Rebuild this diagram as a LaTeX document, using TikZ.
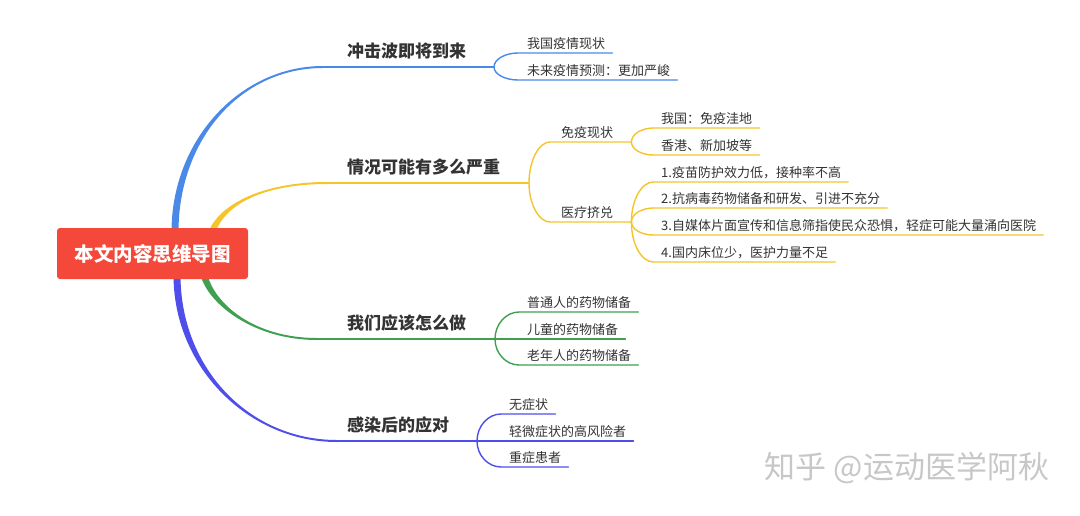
\documentclass[tikz,border=0pt]{standalone}
\usepackage{fontspec}
\setmainfont{Noto Sans CJK SC}
\usetikzlibrary{calc}
\definecolor{cRed}{RGB}{244,72,58}
\definecolor{cBlue}{RGB}{74,137,232}
\definecolor{cYellow}{RGB}{244,196,40}
\definecolor{cGreen}{RGB}{62,160,80}
\definecolor{cPurple}{RGB}{80,78,235}
\definecolor{cText}{RGB}{51,51,51}
\tikzset{
  topic/.style={font=\fontsize{17}{17}\selectfont\bfseries, text=cText, anchor=base west, inner sep=0pt},
  sub/.style={font=\fontsize{13}{13}\selectfont, text=cText, anchor=south west, inner xsep=0pt, inner ysep=2pt, text depth=2pt},
  leaf/.style={sub},
  link/.style={line width=1.4pt},
}
\begin{document}
\begin{tikzpicture}[x=1pt,y=-1pt, line join=round, line cap=round]
  \useasboundingbox (0,0) rectangle (1080,515);
  % trunks from the root, tapered
  \foreach \c/\xa/\ya/\xp/\yp/\xq/\xe/\ye/\s in {cBlue/175/232/175/139/241/323/67/-1, cYellow/212/232/222/205/262/327/183/-1,
      cGreen/204/275/212/305/255/317/339/1, cPurple/177/275/177/368/249/337/441/1}
  {\fill[\c] (\xa-3.5,\ya) .. controls (\xp-3.5,\yp) and (\xq,\ye+\s) .. (\xe,\ye+\s)
      -- (\xe,\ye-\s) .. controls (\xq,\ye-\s) and (\xp+3.5,\yp) .. (\xa+3.5,\ya) -- cycle;}
  \node[fill=cRed, rounded corners=3pt, minimum width=191pt, minimum height=51pt, text=white,
        font=\fontsize{19.5}{19.5}\selectfont\bfseries] (root) at (152.5,253.5) {本文内容思维导图};
  % topics
  \node[topic] (t1) at (347,57) {冲击波即将到来};
  \node[topic] (t2) at (347,173) {情况可能有多么严重};
  \node[topic] (t3) at (347,329) {我们应该怎么做};
  \node[topic] (t4) at (347,431) {感染后的应对};
  \coordinate (e1) at (322,67);  \coordinate (j1) at (494,67);
  \coordinate (e2) at (326,183); \coordinate (j2) at (529,183);
  \coordinate (e3) at (316,339); \coordinate (j3) at (495,339);
  \coordinate (e4) at (336,441); \coordinate (j4) at (477,441);
  \draw[cBlue, link] (e1) -- (j1);
  \draw[cYellow, link] (e2) -- (j2);
  \draw[cGreen, link] (e3) -- (j3);
  \draw[cPurple, link] (e4) -- (j4);
  % blue leaves
  \node[leaf] (l1a) at (527,53) {我国疫情现状};
  \node[leaf] (l1b) at (527,80) {未来疫情预测：更加严峻};
  \foreach \l in {l1a,l1b}
  {\draw[cBlue, link] (j1) .. controls ($(j1)!0.55!(j1 |- \l.south)$) and ($(j1 |- \l.south)+(11,0)$) .. ($(j1 |- \l.south)+(24,0)$) -- ([xshift=7pt]\l.south east);}
  % yellow
  \node[sub] (s2a) at (561,142) {免疫现状};
  \node[sub] (s2b) at (561,222) {医疗挤兑};
  \coordinate (k2a) at ([xshift=18pt]s2a.south east);
  \coordinate (k2b) at ([xshift=18pt]s2b.south east);
  \foreach \l/\k in {s2a/k2a,s2b/k2b}
  {\draw[cYellow, link] (j2) .. controls ($(j2)!0.55!(j2 |- \l.south)$) and ($(j2 |- \l.south)+(10,0)$) .. ($(j2 |- \l.south)+(21,0)$) -- (\k);}
  \node[leaf] (l2a) at (661,128) {我国：免疫洼地};
  \node[leaf] (l2b) at (661,155) {香港、新加坡等};
  \node[leaf] (l2c) at (661,182) {1.疫苗防护效力低，接种率不高};
  \node[leaf] (l2d) at (661,208) {2.抗病毒药物储备和研发、引进不充分};
  \node[leaf] (l2e) at (661,235) {3.自媒体片面宣传和信息筛指使民众恐惧，轻症可能大量涌向医院};
  \node[leaf] (l2f) at (661,262) {4.国内床位少，医护力量不足};
  \foreach \l/\k in {l2a/k2a,l2b/k2a,l2c/k2b,l2d/k2b,l2e/k2b,l2f/k2b}
  {\draw[cYellow, link] (\k) .. controls ($(\k)!0.55!(\k |- \l.south)$) and ($(\k |- \l.south)+(10,0)$) .. ($(\k |- \l.south)+(22,0)$) -- ([xshift=7pt]\l.south east);}
  % green leaves
  \node[leaf] (l3a) at (527,312) {普通人的药物储备};
  \node[leaf] (l3b) at (527,339) {儿童的药物储备};
  \node[leaf] (l3c) at (527,365) {老年人的药物储备};
  \foreach \l in {l3a,l3b,l3c}
  {\draw[cGreen, link] (j3) .. controls ($(j3)!0.55!(j3 |- \l.south)$) and ($(j3 |- \l.south)+(11,0)$) .. ($(j3 |- \l.south)+(24,0)$) -- ([xshift=7pt]\l.south east);}
  % purple leaves
  \node[leaf] (l4a) at (509,414) {无症状};
  \node[leaf] (l4b) at (509,441) {轻微症状的高风险者};
  \node[leaf] (l4c) at (509,467) {重症患者};
  \foreach \l in {l4a,l4b,l4c}
  {\draw[cPurple, link] (j4) .. controls ($(j4)!0.55!(j4 |- \l.south)$) and ($(j4 |- \l.south)+(11,0)$) .. ($(j4 |- \l.south)+(24,0)$) -- ([xshift=7pt]\l.south east);}
  % watermark
  \node[text=black!22, font=\fontsize{31}{31}\selectfont, inner sep=0pt] (wm) at (907,468) {知乎 @运动医学阿秋};
\end{tikzpicture}
\end{document}
